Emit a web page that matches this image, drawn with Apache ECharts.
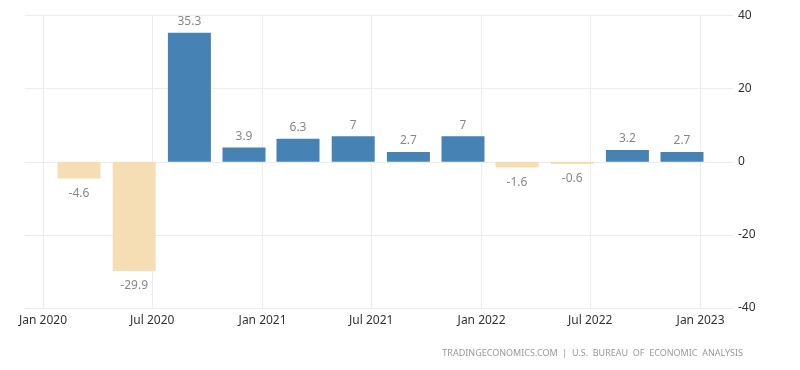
<!DOCTYPE html>
<html>
<head>
<meta charset="utf-8">
<script src="https://cdn.jsdelivr.net/npm/echarts@6/dist/echarts.min.js"></script>
<style>html,body{margin:0;padding:0;background:#fff;}#c{width:800px;height:370px;}</style>
</head>
<body>
<div id="c"></div>
<script>
// Quarter positions (date each bar is drawn at) and GDP growth values
var quarterDates = ['2020-03-01','2020-06-01','2020-09-01','2020-12-01',
                    '2021-03-01','2021-06-01','2021-09-01','2021-12-01',
                    '2022-03-01','2022-06-01','2022-09-01','2022-12-01'];
var gdpGrowth = [-4.6, -29.9, 35.3, 3.9, 6.3, 7, 2.7, 7, -1.6, -0.6, 3.2, 2.7];
var yTicks = [-40, -20, 0, 20, 40];
var monthNames = ['Jan','Feb','Mar','Apr','May','Jun','Jul','Aug','Sep','Oct','Nov','Dec'];
var axisStart = '2019-12-02';
var axisEnd = '2023-02-24';

var FONT = 'Noto Sans';
var pd = echarts.number.parseDate;
var chart = echarts.init(document.getElementById('c'));
var barData = gdpGrowth.map(function (v, i) {
  var neg = v < 0;
  return {
    value: [+pd(quarterDates[i]), v],
    itemStyle: { color: neg ? '#f5deb3' : '#4682b4' },
    label: { position: neg ? 'bottom' : 'top', distance: neg ? 9 : 5 }
  };
});

chart.setOption({
  animation: false,
  backgroundColor: '#fff',
  grid: { left: 25, right: 67, top: 15.5, bottom: 62 },
  xAxis: [{
    type: 'time',
    min: +pd(axisStart),
    max: +pd(axisEnd),
    splitNumber: 6,
    axisLine: { show: false },
    axisTick: { show: false },
    splitLine: { show: true, showMinLine: false, showMaxLine: false, lineStyle: { color: '#ececec', width: 1 } },
    axisLabel: {
      color: '#333',
      fontFamily: FONT,
      fontSize: 12,
      margin: 7,
      formatter: function (val) {
        var d = new Date(val);
        return monthNames[d.getMonth()] + ' ' + d.getFullYear();
      }
    }
  }, {
    type: 'value',
    show: false,
    min: +pd(axisStart),
    max: +pd(axisEnd),
    splitLine: { show: false }
  }],
  yAxis: {
    type: 'value',
    position: 'right',
    min: yTicks[0],
    max: yTicks[yTicks.length - 1],
    interval: 20,
    axisLine: { show: false },
    axisTick: { show: false },
    splitLine: { show: true, lineStyle: { color: '#ececec', width: 1 } },
    axisLabel: { color: '#333', fontFamily: FONT, fontSize: 12, margin: 5 }
  },
  series: [{
    type: 'bar',
    xAxisIndex: 1,
    barWidth: 43,
    data: barData,
    label: {
      show: true,
      color: '#888',
      fontFamily: FONT,
      fontSize: 12,
      formatter: function (p) { return String(p.value[1]); }
    }
  }],
  graphic: [{
    type: 'text',
    right: 57,
    top: 349,
    style: {
      text: 'TRADINGECONOMICS.COM  |  U.S.  BUREAU  OF  ECONOMIC  ANALYSIS',
      fill: '#999',
      font: '9px "Noto Sans"'
    }
  }]
});
</script>
</body>
</html>
